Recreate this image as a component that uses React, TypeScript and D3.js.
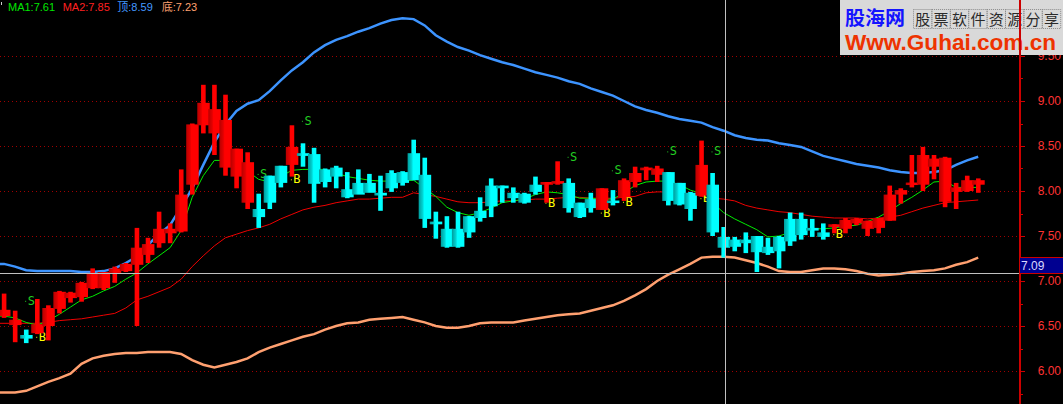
import React, { useEffect } from 'react';
import * as d3 from 'd3';

const W = 1063;
const H = 404;

// OHLC per bar (price units)
const opens = [6.61,6.51,6.40,6.42,6.50,6.69,6.81,6.82,6.92,6.92, 7.09,7.11,7.18,7.29,7.42,7.53,7.55,8.07,8.73,8.64, 8.26,8.16,7.87,7.80,8.17,8.28,8.29,8.42,8.41,8.24, 8.26,8.02,8.09,8.09,7.98,8.20,8.21,8.42,8.18,7.66, 7.58,7.58,7.72,7.78,8.06,8.06,7.98,7.97,8.07,8.07, 8.08,8.09,7.87,7.91,7.79,7.89,7.93,8.10,8.23,8.18, 8.21,8.09,7.98,7.95,8.07,7.49,7.46,7.46,7.50,7.38, 7.49,7.69,7.69,7.59,7.54,7.60,7.58,7.64,7.58,7.59, 7.67,7.96,8.07,8.07,8.27,7.88,7.99,8.00,8.07];
const highs = [6.86,6.67,6.46,6.80,6.73,6.89,6.88,6.99,7.14,7.10, 7.16,7.20,7.59,7.48,7.77,7.64,8.24,8.75,9.18,9.18, 9.07,8.47,8.43,7.97,8.17,8.28,8.73,8.53,8.48,8.25, 8.28,8.21,8.24,8.19,8.17,8.23,8.22,8.57,8.37,7.77, 7.72,7.77,7.72,7.93,8.14,8.06,8.04,7.98,8.16,8.10, 8.33,8.14,7.87,7.98,8.03,8.01,8.14,8.27,8.27,8.28, 8.21,8.09,7.99,8.56,8.20,7.60,7.49,7.54,7.50,7.48, 7.50,7.76,7.76,7.69,7.64,7.63,7.70,7.70,7.67,7.70, 8.06,8.03,8.40,8.49,8.40,8.38,8.09,8.17,8.14];
const lows = [6.59,6.32,6.31,6.41,6.34,6.64,6.76,6.77,6.91,6.90, 6.98,7.10,6.50,7.20,7.37,7.42,7.54,7.96,8.64,8.40, 8.17,8.03,7.80,7.59,7.80,8.04,8.16,8.27,7.87,8.04, 8.03,7.92,8.00,8.03,7.78,7.99,8.06,8.12,7.59,7.47, 7.37,7.37,7.48,7.66,7.71,7.87,7.87,7.86,7.96,7.87, 8.07,7.76,7.70,7.76,7.79,7.84,7.89,8.04,8.12,8.10, 7.84,7.84,7.67,7.94,7.50,7.26,7.33,7.31,7.10,7.29, 7.14,7.39,7.46,7.49,7.46,7.53,7.53,7.62,7.50,7.53, 7.67,7.86,8.04,8.00,8.13,7.82,7.80,7.99,7.98];
const closes = [6.68,6.57,6.36,6.52,6.70,6.88,6.87,6.98,7.09,7.10, 7.14,7.19,7.37,7.41,7.58,7.58,7.96,8.74,8.98,8.91, 8.79,8.47,8.32,7.71,7.87,8.09,8.49,8.39,8.08,8.10, 8.16,7.93,7.96,7.98,7.95,8.03,8.09,8.12,7.69,7.63, 7.38,7.38,7.54,7.70,7.83,8.03,7.92,7.87,7.99,8.10, 8.11,7.81,7.71,7.81,8.03,7.87,8.12,8.20,8.26,8.25, 7.89,7.85,7.80,8.29,7.54,7.37,7.38,7.42,7.32,7.31, 7.33,7.44,7.51,7.56,7.49,7.63,7.68,7.69,7.67,7.70, 7.96,8.01,8.09,8.40,8.36,8.37,8.04,8.12,8.12];

const ma1 = [6.61,6.59,6.54,6.51,6.56,6.63,6.71,6.79,6.83,6.89, 6.94,7.02,7.09,7.19,7.28,7.37,7.56,7.93,8.17,8.34, 8.34,8.29,8.22,8.13,8.10,8.16,8.23,8.24,8.24,8.24, 8.20,8.16,8.14,8.12,8.11,8.11,8.11,8.12,8.03,7.94, 7.82,7.76,7.73,7.76,7.81,7.87,7.89,7.91,7.96,7.99, 7.98,7.96,7.92,7.92,7.91,7.91,7.98,8.06,8.10,8.11, 8.11,8.07,8.01,7.97,7.87,7.76,7.69,7.63,7.57,7.49, 7.50,7.54,7.57,7.58,7.58,7.59,7.61,7.62,7.66,7.71, 7.78,7.86,7.93,8.01,8.10,8.11,8.04,8.04,8.04];
const ma2 = [6.53,6.53,6.53,6.53,6.54,6.56,6.57,6.58,6.60,6.62, 6.64,6.70,6.79,6.83,6.88,6.93,7.02,7.16,7.28,7.39, 7.48,7.52,7.56,7.59,7.63,7.69,7.74,7.79,7.82,7.84, 7.87,7.89,7.91,7.91,7.92,7.93,7.93,7.98,7.96,7.94, 7.91,7.88,7.87,7.87,7.88,7.89,7.89,7.90,7.91,7.91, 7.92,7.93,7.93,7.92,7.92,7.92,7.93,7.94,7.98,7.99, 7.99,7.98,7.97,7.94,7.92,7.91,7.89,7.84,7.81,7.79, 7.77,7.76,7.74,7.72,7.71,7.70,7.70,7.70,7.69,7.70, 7.71,7.73,7.77,7.81,7.84,7.87,7.88,7.89,7.90];
const topBand = [7.19,7.16,7.12,7.11,7.11,7.11,7.11,7.10,7.10,7.11, 7.14,7.20,7.27,7.40,7.52,7.62,7.82,8.03,8.29,8.54, 8.74,8.89,8.97,9.01,9.11,9.23,9.34,9.43,9.54,9.62, 9.68,9.72,9.77,9.81,9.86,9.90,9.92,9.91,9.84,9.73, 9.66,9.60,9.56,9.51,9.47,9.43,9.40,9.36,9.32,9.29, 9.26,9.22,9.19,9.14,9.10,9.06,9.00,8.94,8.90,8.87, 8.83,8.80,8.78,8.76,8.71,8.67,8.62,8.59,8.57,8.56, 8.53,8.51,8.49,8.44,8.39,8.36,8.33,8.30,8.28,8.26, 8.23,8.21,8.20,8.20,8.21,8.23,8.29,8.34,8.38];
const bottomBand = [5.76,5.76,5.78,5.83,5.88,5.92,5.97,6.08,6.14,6.17, 6.19,6.20,6.20,6.21,6.21,6.21,6.19,6.12,6.07,6.04, 6.07,6.10,6.14,6.21,6.26,6.30,6.34,6.38,6.41,6.46, 6.50,6.53,6.54,6.57,6.58,6.59,6.60,6.57,6.54,6.50, 6.48,6.48,6.50,6.53,6.54,6.54,6.54,6.56,6.58,6.60, 6.62,6.63,6.64,6.67,6.70,6.73,6.78,6.84,6.91,7.00, 7.07,7.13,7.19,7.26,7.27,7.27,7.26,7.23,7.20,7.16, 7.11,7.10,7.10,7.12,7.14,7.14,7.13,7.11,7.08,7.06, 7.07,7.08,7.10,7.11,7.12,7.14,7.18,7.21,7.26];

const sBars = [2, 23, 27, 51, 55, 60, 64];
const sPrices = [6.78, 8.19, 8.78, 8.38, 8.23, 8.44, 8.44];
const bBars = [3, 26, 49, 54, 56, 63, 75];
const bPrices = [6.38, 8.13, 7.87, 7.76, 7.88, 7.92, 7.52];

const yTicks = [6.0, 6.5, 7.0, 7.5, 8.0, 8.5, 9.0, 9.5];
const minorTicks = [5.75, 6.25, 6.75, 7.25, 7.75, 8.25, 8.75, 9.25, 9.75, 10.0];

const legendTexts = ['MA1:7.61', 'MA2:7.85', '顶:8.59', '底:7.23'];
const legendColors = ['#00e600', '#ff2020', '#4499ff', '#ffa070'];
const legendX = [8, 62.7, 117.3, 161.7];

const cursorPrice = 7.09;
const cursorBar = 65.1;

const wmChars = ['股', '票', '软', '件', '资', '源', '分', '享'];

export default function App() {
  useEffect(() => {
    document.body.style.margin = '0';
    document.body.style.background = '#000';
  }, []);

  const x = d3.scaleLinear().domain([0, 88]).range([4, 978.2]);
  const y = d3.scaleLinear().domain([6, 9.5]).range([371, 56]);
  const leftIdx = x.invert(0);

  // line starting at the plot's left edge with the first bar's value
  const line = (arr: number[]) =>
    d3.line<[number, number]>().x((d) => x(d[0])).y((d) => y(d[1]))(
      [[leftIdx, arr[0]] as [number, number]].concat(arr.map((v, i) => [i, v] as [number, number]))
    ) || '';

  const axisX = 1020;
  const font = '"Liberation Sans", Arial, sans-serif';
  const cx = x(cursorBar);
  const cy = y(cursorPrice);

  return (
    <svg width={W} height={H} style={{ position: 'absolute', left: 0, top: 0, display: 'block', background: '#000' }}>
      <defs>
        <linearGradient id="gRed" x1="0" x2="1" y1="0" y2="0">
          <stop offset="0" stopColor="#b80000" />
          <stop offset="0.3" stopColor="#e00000" />
          <stop offset="0.42" stopColor="#ff0000" />
          <stop offset="1" stopColor="#ff0000" />
        </linearGradient>
        <linearGradient id="gCyan" x1="0" x2="1" y1="0" y2="0">
          <stop offset="0" stopColor="#009c9c" />
          <stop offset="0.3" stopColor="#00d0d0" />
          <stop offset="0.45" stopColor="#00ffff" />
          <stop offset="1" stopColor="#00ffff" />
        </linearGradient>
        <clipPath id="plotClip">
          <rect x={0} y={0} width={axisX - 1} height={H} />
        </clipPath>
      </defs>
      <rect x={0} y={0} width={W} height={H} fill="#000" />

      {/* grid */}
      {yTicks.map((v) => (
        <line key={'g' + v} x1={0} x2={axisX - 1} y1={Math.round(y(v)) + 0.5} y2={Math.round(y(v)) + 0.5}
          stroke="#a00000" strokeWidth={1} strokeDasharray="1,3" shapeRendering="crispEdges" />
      ))}

      <g clipPath="url(#plotClip)">
        {/* bands */}
        <path d={line(bottomBand)} fill="none" stroke="#ffa070" strokeWidth={2.5} />
        <path d={line(topBand)} fill="none" stroke="#3d94ff" strokeWidth={2.5} />
        <path d={line(ma2)} fill="none" stroke="#ee0000" strokeWidth={1} />
        <path d={line(ma1)} fill="none" stroke="#00ee00" strokeWidth={1} />

        {/* signal markers */}
        {sBars.map((b, k) => (
          <g key={'s' + k}>
            <rect x={x(b) - 1} y={y(sPrices[k])} width={1} height={1} fill="#22cc22" />
            <text x={x(b) + 1.5} y={y(sPrices[k])} dominantBaseline="central" fontSize={12}
              fontFamily='"DejaVu Sans Mono", monospace' fill="#22cc22">S</text>
          </g>
        ))}
        {bBars.map((b, k) => (
          <g key={'b' + k}>
            <rect x={x(b) - 1} y={y(bPrices[k])} width={1} height={1} fill="#ffff00" />
            <text x={x(b) + 1.5} y={y(bPrices[k])} dominantBaseline="central" fontSize={12}
              fontFamily='"DejaVu Sans Mono", monospace' fill="#ffff00">B</text>
          </g>
        ))}

        {/* candles */}
        {opens.map((o, i) => {
          const c = closes[i];
          const up = c >= o;
          const cxi = x(i);
          const top = y(Math.max(o, c));
          const bot = y(Math.min(o, c));
          const bh = Math.max(2.5, bot - top);
          return (
            <g key={'c' + i}>
              <rect x={cxi - 2.2} width={4.6} y={y(highs[i])} height={Math.max(1, y(lows[i]) - y(highs[i]))}
                fill={up ? '#ff0000' : '#00ffff'} />
              <rect x={cxi - 6} width={12.5} y={bh === 2.5 ? (top + bot) / 2 - 1.25 : top} height={bh}
                fill={up ? 'url(#gRed)' : 'url(#gCyan)'} />
            </g>
          );
        })}
      </g>

      {/* crosshair */}
      <line x1={Math.round(cx) + 0.5} x2={Math.round(cx) + 0.5} y1={0} y2={H} stroke="#c0c0c0" strokeWidth={1} shapeRendering="crispEdges" />
      <line x1={0} x2={axisX} y1={Math.round(cy) + 0.5} y2={Math.round(cy) + 0.5} stroke="#c0c0c0" strokeWidth={1} shapeRendering="crispEdges" />

      {/* axis labels & ticks */}
      {yTicks.map((v) => (
        <g key={'t' + v}>
          <line x1={axisX} x2={axisX + 5} y1={Math.round(y(v)) + 0.5} y2={Math.round(y(v)) + 0.5} stroke="#d00000" shapeRendering="crispEdges" />
          <text x={1061} y={y(v)} textAnchor="end" dominantBaseline="central" fontSize={12} fontFamily={font} fill="#ff3333">
            {v.toFixed(2)}
          </text>
        </g>
      ))}
      {minorTicks.map((v) => (
        <line key={'m' + v} x1={axisX} x2={axisX + 3} y1={Math.round(y(v)) + 0.5} y2={Math.round(y(v)) + 0.5} stroke="#d00000" shapeRendering="crispEdges" />
      ))}

      {/* legend */}
      <rect x={1} y={2} width={1} height={3} fill="#cccccc" />
      {legendTexts.map((t, i) => (
        <text key={'l' + i} x={legendX[i]} y={11} fontSize={11} fontFamily={font + ', "Noto Sans CJK SC"'} fill={legendColors[i]}>{t}</text>
      ))}

      {/* watermark */}
      <rect x={840} y={0} width={223} height={55} fill="#d9d9d9" />
      <text x={845} y={25} fontSize={19} fontWeight="bold" fontFamily='"Noto Sans CJK SC", sans-serif' fill="#1414ff"
        textLength={60} lengthAdjust="spacingAndGlyphs">股海网</text>
      {wmChars.map((ch, k) => (
        <g key={'w' + k}>
          <rect x={913 + k * 18.4 + 0.5} y={9.5} width={18.4} height={19} fill="none" stroke="#8a8a8a" strokeWidth={1} strokeDasharray="1,1" />
          <text x={913 + k * 18.4 + 9.7} y={24.5} textAnchor="middle" fontSize={15} fontFamily='"Noto Sans CJK SC", sans-serif' fill="#2a2a2a">{ch}</text>
        </g>
      ))}
      <text x={845} y={50} fontSize={22} fontWeight="bold" fontFamily={font} fill="#ee3300"
        textLength={211} lengthAdjust="spacingAndGlyphs">Www.Guhai.com.cn</text>

      {/* axis line */}
      <rect x={axisX - 1} y={0} width={2} height={H} fill="#cc0000" />

      {/* cursor value box */}
      <rect x={axisX} y={Math.round(cy) - 16} width={W - axisX} height={16.5} fill="#000090" />
      <line x1={axisX} x2={W} y1={Math.round(cy) - 15.5} y2={Math.round(cy) - 15.5} stroke="#cc0000" />
      <line x1={axisX} x2={W} y1={Math.round(cy) + 0.5} y2={Math.round(cy) + 0.5} stroke="#cc0000" />
      <text x={axisX + 1} y={Math.round(cy) - 7.5} dominantBaseline="central" fontSize={12} fontFamily={font} fill="#d8d8ff">
        {cursorPrice.toFixed(2)}
      </text>
    </svg>
  );
}
